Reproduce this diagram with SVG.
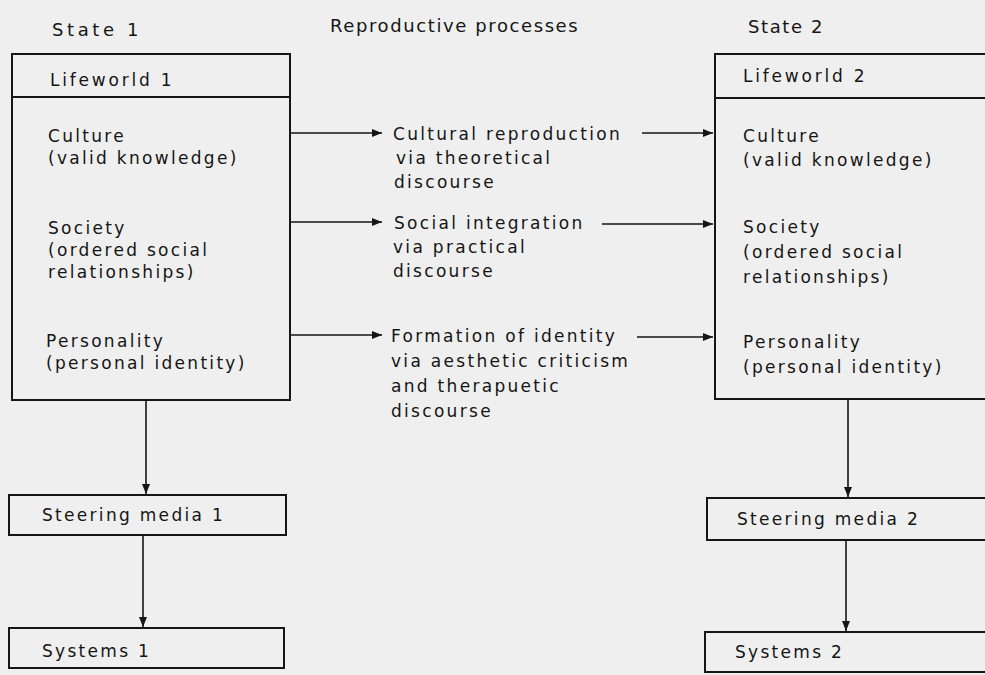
<svg xmlns="http://www.w3.org/2000/svg" width="985" height="675" viewBox="0 0 985 675">
  <defs>
    <marker id="ah" viewBox="0 0 10 10" refX="10" refY="5" markerWidth="10" markerHeight="10" markerUnits="userSpaceOnUse" orient="auto">
      <path d="M0,1 L10,5 L0,9 Z" fill="#151515"/>
    </marker>
    <style>
      .box { fill: none; stroke: #151515; stroke-width: 2; }
      .con { fill: none; stroke: #151515; stroke-width: 1.6; marker-end: url(#ah); }
      text { font-family: "DejaVu Sans", "Noto Sans", sans-serif; font-size: 17px; letter-spacing: 2.3px; fill: #151515; }
      .head { font-size: 18px; letter-spacing: 1.6px; }
      .wide { letter-spacing: 3.6px; }
      .small { letter-spacing: 2.8px; }
    </style>
  </defs>

  <rect width="985" height="675" fill="#efefef"/>

  <!-- column headings -->
  <g id="headings">
    <text class="head wide" x="52" y="36">State 1</text>
    <text class="head" x="330" y="32">Reproductive processes</text>
    <text class="head" x="748" y="33">State 2</text>
  </g>

  <!-- Lifeworld 1 -->
  <g id="lifeworld1">
    <rect class="box" x="12" y="54" width="278" height="346"/>
    <line class="box" x1="12" y1="97" x2="290" y2="97"/>
    <text class="small" x="50" y="86">Lifeworld 1</text>
    <text x="48" y="142">Culture</text>
    <text x="48" y="164">(valid knowledge)</text>
    <text x="48" y="234">Society</text>
    <text x="48" y="256">(ordered social</text>
    <text x="48" y="278">relationships)</text>
    <text x="46" y="347">Personality</text>
    <text x="46" y="369">(personal identity)</text>
  </g>

  <!-- reproductive processes -->
  <g id="cultural-reproduction">
    <text x="393" y="140">Cultural reproduction</text>
    <text x="396" y="164">via theoretical</text>
    <text x="394" y="188">discourse</text>
  </g>
  <g id="social-integration">
    <text x="394" y="229">Social integration</text>
    <text x="393" y="253">via practical</text>
    <text x="393" y="277">discourse</text>
  </g>
  <g id="identity-formation">
    <text x="391" y="342">Formation of identity</text>
    <text x="391" y="367">via aesthetic criticism</text>
    <text x="391" y="392">and therapuetic</text>
    <text x="391" y="417">discourse</text>
  </g>

  <!-- Lifeworld 2 -->
  <g id="lifeworld2">
    <rect class="box" x="715" y="54" width="290" height="345"/>
    <line class="box" x1="715" y1="98" x2="1005" y2="98"/>
    <text class="small" x="743" y="82">Lifeworld 2</text>
    <text x="743" y="142">Culture</text>
    <text x="743" y="166">(valid knowledge)</text>
    <text x="743" y="233">Society</text>
    <text x="743" y="258">(ordered social</text>
    <text x="743" y="283">relationships)</text>
    <text x="743" y="348">Personality</text>
    <text x="743" y="373">(personal identity)</text>
  </g>

  <!-- steering media and systems -->
  <g id="steering1">
    <rect class="box" x="9" y="495" width="277" height="40"/>
    <text x="42" y="521">Steering media 1</text>
  </g>
  <g id="systems1">
    <rect class="box" x="9" y="628" width="275" height="40"/>
    <text x="42" y="657">Systems 1</text>
  </g>
  <g id="steering2">
    <rect class="box" x="707" y="498" width="300" height="42"/>
    <text x="737" y="525">Steering media 2</text>
  </g>
  <g id="systems2">
    <rect class="box" x="705" y="632" width="300" height="40"/>
    <text x="735" y="658">Systems 2</text>
  </g>

  <!-- connectors -->
  <g id="connectors">
    <line class="con" x1="291" y1="133" x2="382" y2="133"/>
    <line class="con" x1="291" y1="222" x2="382" y2="222"/>
    <line class="con" x1="291" y1="335" x2="382" y2="335"/>
    <line class="con" x1="642" y1="133" x2="713" y2="133"/>
    <line class="con" x1="602" y1="224" x2="713" y2="224"/>
    <line class="con" x1="637" y1="337" x2="713" y2="337"/>
    <line class="con" x1="146" y1="401" x2="146" y2="494"/>
    <line class="con" x1="143" y1="536" x2="143" y2="627"/>
    <line class="con" x1="848" y1="400" x2="848" y2="497"/>
    <line class="con" x1="846" y1="541" x2="846" y2="631"/>
  </g>
</svg>
